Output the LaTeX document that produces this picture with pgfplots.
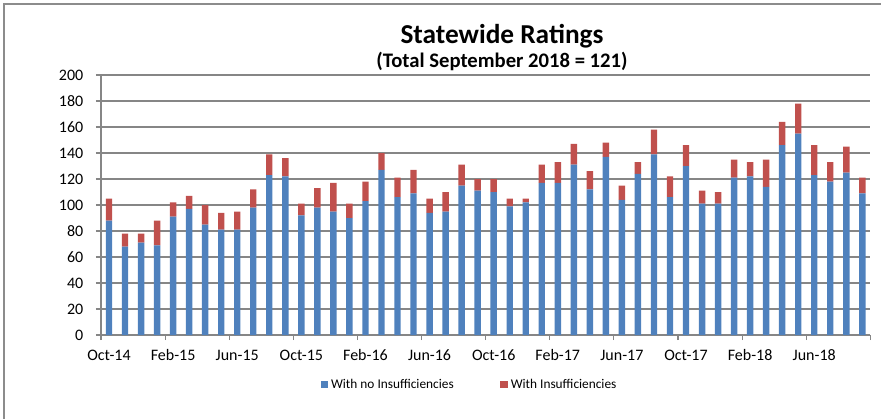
\documentclass[border=0pt]{standalone}
\usepackage{fontspec}
\setmainfont{Carlito}
\usepackage{pgfplots}
\pgfplotsset{compat=1.18}
\usepackage{pgfplotstable}

\definecolor{okblue}{RGB}{79,129,189}
\definecolor{insred}{RGB}{192,80,77}
\definecolor{gridgray}{RGB}{134,134,134}
\definecolor{framegray}{RGB}{140,140,140}

% month index (0 = Oct-14), with no insufficiencies, with insufficiencies
\pgfplotstableread{
x  ok   ins
0  88   17
1  68   10
2  71   7
3  69   19
4  91   11
5  97   10
6  85   15
7  81   13
8  81   14
9  98   14
10 123  16
11 122  14
12 92   9
13 98   15
14 95   22
15 90   11
16 103  15
17 127  13
18 106  15
19 109  18
20 94   11
21 95   15
22 115  16
23 111  9
24 110  10
25 99   6
26 102  3
27 117  14
28 117  16
29 131  16
30 112  14
31 137  11
32 104  11
33 124  9
34 139  19
35 106  16
36 130  16
37 101  10
38 101  9
39 121  14
40 122  11
41 114  21
42 146  18
43 155  23
44 123  23
45 118  15
46 125  20
47 109  12
}\ratings

\begin{document}
\begin{tikzpicture}
\path[use as bounding box] (0,0) rectangle (660.75pt,-314.25pt);
\draw[framegray, line width=1pt] (3pt,-314.25pt) -- (3pt,-3pt) -- (660.75pt,-3pt);

\node[font=\bfseries\fontsize{20.5}{24}\selectfont] at (376.5pt,-27pt) {Statewide Ratings};
\node[font=\bfseries\fontsize{15.5}{18}\selectfont] at (376.5pt,-46pt) {(Total September 2018 = 121)};

\begin{axis}[
  at={(75.75pt,-251.25pt)}, anchor=south west,
  scale only axis,
  width=577pt, height=195pt,
  ybar stacked,
  bar width=0.4,
  xmin=-0.5, xmax=47.5,
  ymin=0, ymax=200,
  ytick={0,20,...,200},
  xtick={-0.5,3.5,...,47.5},
  xticklabels={},
  extra x ticks={0,4,...,44},
  extra x tick labels={Oct-14,Feb-15,Jun-15,Oct-15,Feb-16,Jun-16,Oct-16,Feb-17,Jun-17,Oct-17,Feb-18,Jun-18},
  extra x tick style={major tick length=0pt, tick style={draw=none},
    xticklabel style={yshift=-7.5pt}},
  yticklabel style={xshift=-6pt},
  tick align=outside,
  major tick length=3.75pt,
  tick style={draw=gridgray, line width=0.8pt},
  ymajorgrids,
  major grid style={draw=gridgray, line width=0.8pt},
  axis x line*=bottom,
  axis y line*=left,
  axis line style={draw=gridgray, line width=0.8pt},
  ticklabel style={font=\fontsize{12}{14}\selectfont},
  /pgf/number format/assume math mode=true,
  legend columns=2,
  legend style={at={(0.4795,-0.19)}, anchor=center, draw=none,
    font=\fontsize{10}{12}\selectfont,
    /tikz/every even column/.append style={column sep=33pt}},
  legend image code/.code={\fill[#1] (0pt,-2.9pt) rectangle (5.75pt,2.9pt);},
]
\addplot[fill=okblue, draw=none] table[x=x, y=ok] {\ratings};
\addlegendentry{With no Insufficiencies}
\addplot[fill=insred, draw=none] table[x=x, y=ins] {\ratings};
\addlegendentry{With Insufficiencies}
\end{axis}
\end{tikzpicture}
\end{document}
